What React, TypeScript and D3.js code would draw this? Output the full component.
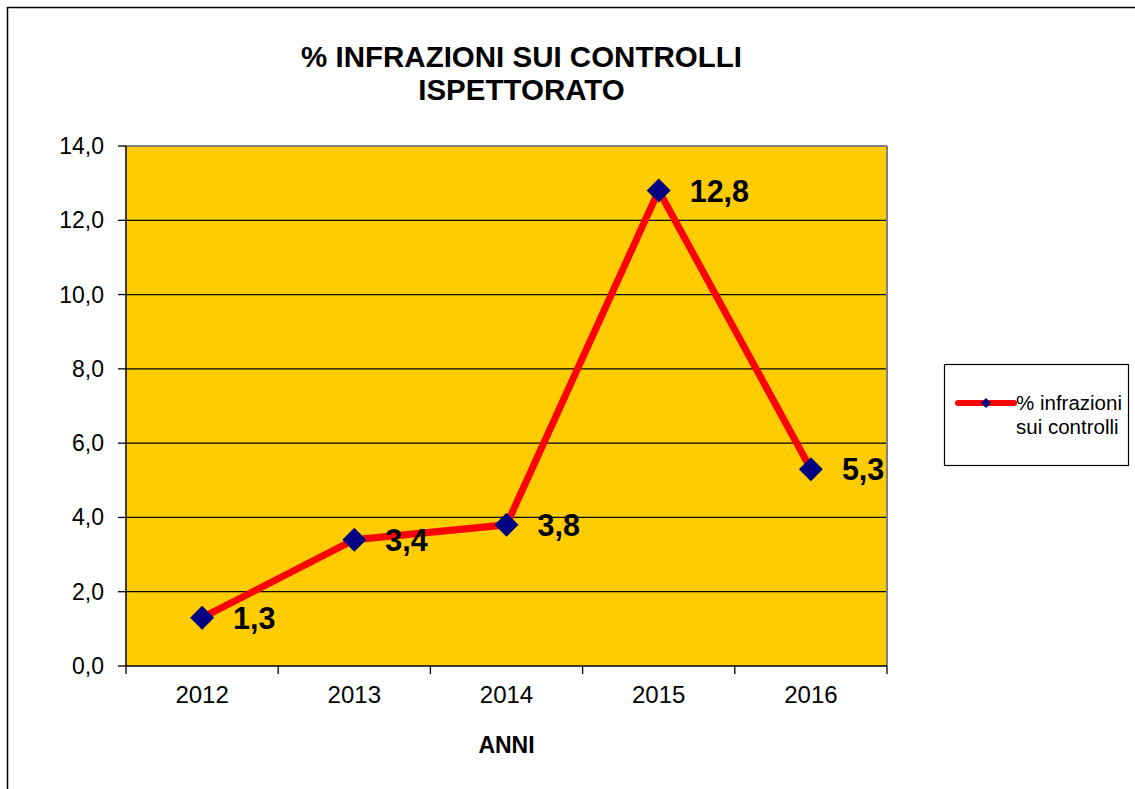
import React from "react";
import * as d3 from "d3";

const years = ["2012", "2013", "2014", "2015", "2016"];
const values = [1.3, 3.4, 3.8, 12.8, 5.3];
const yTicks = [0, 2, 4, 6, 8, 10, 12, 14];
const titleLines = ["% INFRAZIONI SUI CONTROLLI", "ISPETTORATO"];
const xAxisTitle = "ANNI";
const legendLines = ["% infrazioni", "sui controlli"];

const fmt = (v: number) => v.toFixed(1).replace(".", ",");

export default function App() {
  const W = 1135, H = 789;
  const left = 126, right = 887, top = 146, bottom = 666;
  const x = d3.scaleBand<string>().domain(years).range([left, right]).padding(0);
  const y = d3.scaleLinear().domain([0, 14]).range([bottom, top]);
  const cx = (d: string) => (x(d) as number) + x.bandwidth() / 2;
  const pts: [number, number][] = years.map((d, i) => [cx(d), y(values[i])]);
  const line = d3.line<[number, number]>()(pts) as string;
  const diamond = (px: number, py: number, r: number) =>
    `M${px},${py - r}L${px + r},${py}L${px},${py + r}L${px - r},${py}Z`;
  const tickXs = [...years.map((d) => x(d) as number), right];
  const font = "Liberation Sans, Arial, sans-serif";

  return (
    <svg width={W} height={H} style={{ position: "absolute", left: 0, top: 0, background: "#fff" }} fontFamily={font}>
      <rect x={7.5} y={7.5} width={1300} height={1000} fill="none" stroke="#000" strokeWidth={1.5} />
      {titleLines.map((t, i) => (
        <text key={t} x={521.5} y={67 + i * 33} textAnchor="middle" fontWeight="bold" fontSize={29.5} fill="#000">
          {t}
        </text>
      ))}
      <rect x={left} y={top} width={right - left} height={bottom - top} fill="#FFCC00" />
      {yTicks.filter((t) => t > 0 && t < 14).map((t) => (
        <line key={t} x1={left} x2={right} y1={y(t)} y2={y(t)} stroke="#000" strokeWidth={1.3} />
      ))}
      <line x1={left} x2={right} y1={top} y2={top} stroke="#808080" strokeWidth={2} />
      <line x1={right} x2={right} y1={top} y2={bottom} stroke="#808080" strokeWidth={2} />
      <line x1={left} x2={left} y1={top} y2={bottom} stroke="#000" strokeWidth={1.5} />
      <line x1={left} x2={right} y1={bottom} y2={bottom} stroke="#000" strokeWidth={1.5} />
      {yTicks.map((t) => (
        <g key={t}>
          <line x1={118} x2={left} y1={y(t)} y2={y(t)} stroke="#000" strokeWidth={1.3} />
          <text x={104} y={y(t) + 8} textAnchor="end" fontSize={23} fill="#000">
            {fmt(t)}
          </text>
        </g>
      ))}
      {tickXs.map((tx, i) => (
        <line key={i} x1={tx} x2={tx} y1={bottom} y2={bottom + 8} stroke="#000" strokeWidth={1.3} />
      ))}
      {years.map((d) => (
        <text key={d} x={cx(d)} y={703} textAnchor="middle" fontSize={24} fill="#000">
          {d}
        </text>
      ))}
      <text x={(left + right) / 2} y={753} textAnchor="middle" fontWeight="bold" fontSize={23} fill="#000">
        {xAxisTitle}
      </text>
      <path d={line} fill="none" stroke="#FF0000" strokeWidth={7} strokeLinejoin="miter" />
      {pts.map(([px, py], i) => (
        <g key={i}>
          <path d={diamond(px, py, 12)} fill="#000080" />
          <text x={px + 31} y={py + 11} fontWeight="bold" fontSize={30.5} fill="#000">
            {fmt(values[i])}
          </text>
        </g>
      ))}
      <rect x={944.5} y={364.5} width={184} height={101} fill="#fff" stroke="#000" strokeWidth={1.2} />
      <line x1={958} x2={1014} y1={403} y2={403} stroke="#FF0000" strokeWidth={6} strokeLinecap="round" />
      <path d={diamond(986, 403, 5)} fill="#000080" />
      <text x={1016} y={410} fontSize={20.5} fill="#000">{legendLines[0]}</text>
      <text x={1016} y={434} fontSize={20.5} fill="#000">{legendLines[1]}</text>
    </svg>
  );
}
